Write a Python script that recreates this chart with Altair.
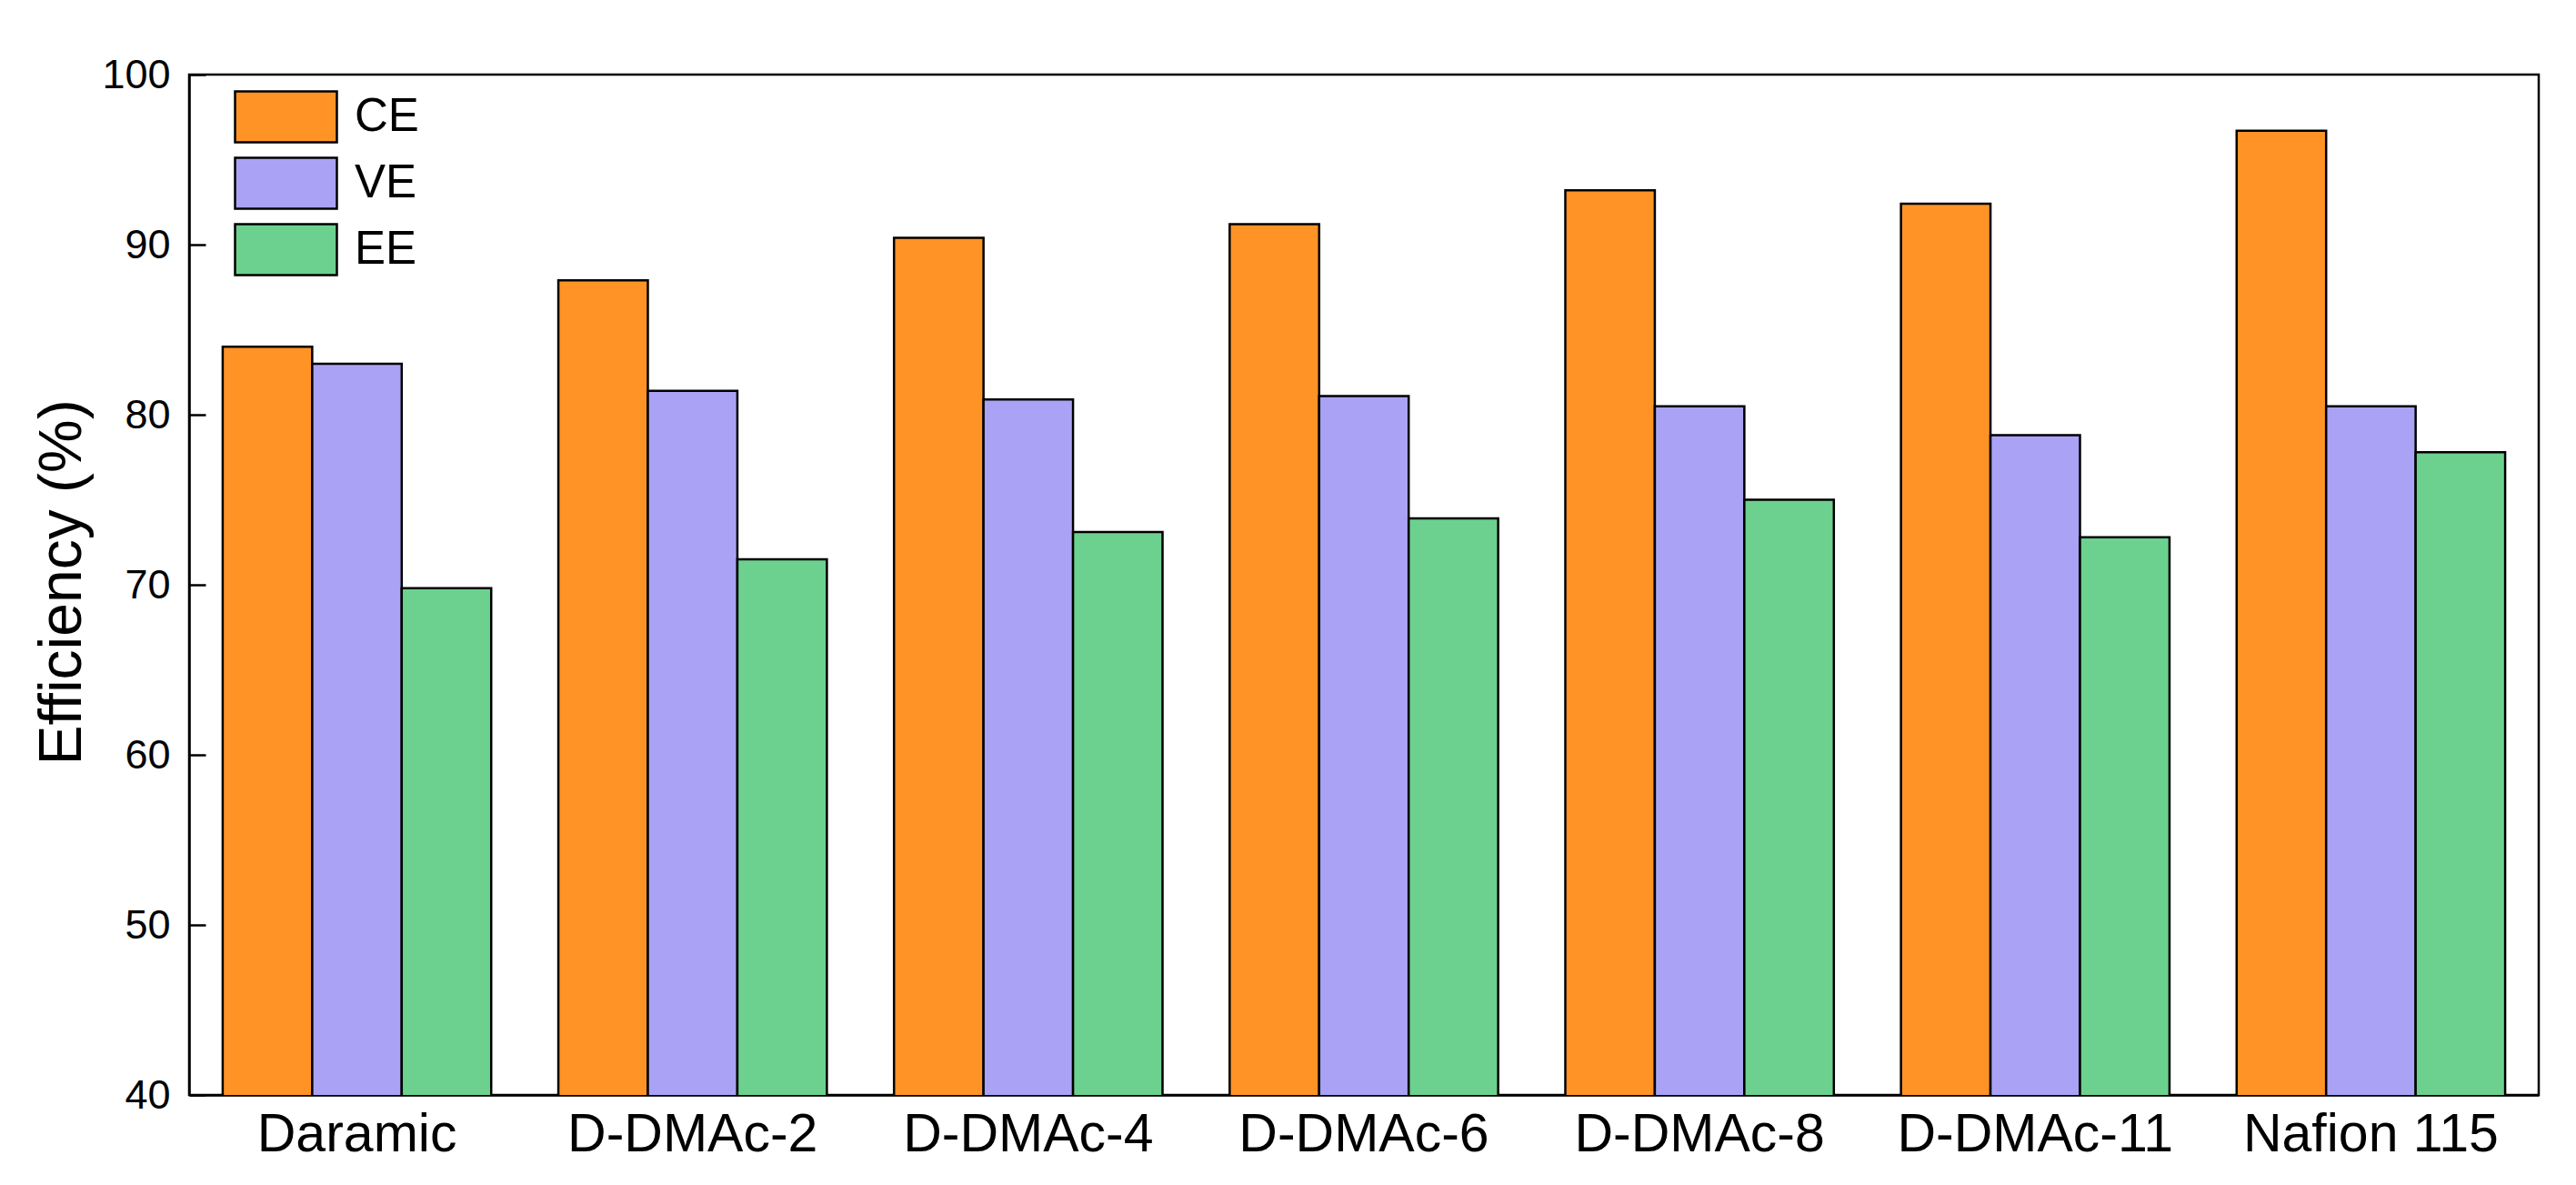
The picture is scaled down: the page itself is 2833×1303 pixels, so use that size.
import altair as alt
import pandas as pd

groups = ["Daramic", "D-DMAc-2", "D-DMAc-4", "D-DMAc-6", "D-DMAc-8", "D-DMAc-11", "Nafion 115"]
series = ["CE", "VE", "EE"]
ce = [84.0, 87.9, 90.4, 91.2, 93.2, 92.4, 96.7]
ve = [83.0, 81.4, 80.9, 81.1, 80.5, 78.8, 80.5]
ee = [69.8, 71.5, 73.1, 73.9, 75.0, 72.8, 77.8]
colors = ["#FF9326", "#AAA2F5", "#6CD18E"]
y_ticks = [40, 50, 60, 70, 80, 90, 100]

rows = []
for s, vals in zip(series, [ce, ve, ee]):
    for g, v in zip(groups, vals):
        rows.append({"Membrane": g, "Series": s, "Value": v})
df = pd.DataFrame(rows)

FONT = "Liberation Sans"
W, H = 2584, 1122
TICK = 18

yscale = alt.Scale(domain=[40, 100], nice=False, zero=False)

# The y axis is a "right" axis moved onto the left edge (offset -W), so its
# ticks point into the plot; labels are pulled back to the left of the line.
chart = alt.Chart(df).mark_bar(clip=True, stroke="black", strokeWidth=2.5).encode(
    x=alt.X("Membrane:N", sort=groups,
            scale=alt.Scale(paddingInner=0.2, paddingOuter=0.1),
            axis=alt.Axis(title=None, labelAngle=0, ticks=False, tickSize=0,
                          labelFontSize=59, labelPadding=14, labelFont=FONT,
                          labelColor="black", labelLimit=800,
                          domainColor="black", domainWidth=2.5)),
    xOffset=alt.XOffset("Series:N", sort=series,
                        scale=alt.Scale(paddingInner=0, paddingOuter=0)),
    y=alt.Y("Value:Q", scale=yscale,
            axis=alt.Axis(orient="right", offset=-W, title="Efficiency (%)",
                          values=y_ticks, ticks=True, tickSize=TICK, tickWidth=2.5,
                          tickColor="black",
                          labelFontSize=45, labelPadding=-(TICK + 21), labelAlign="right",
                          labelFont=FONT, labelColor="black",
                          domainColor="black", domainWidth=2.5,
                          grid=False, titleFont=FONT, titleFontSize=66,
                          titleFontWeight="normal", titleColor="black",
                          titleAngle=270, titleX=-120, titleY=558,
                          titleAlign="center", titleBaseline="alphabetic")),
    color=alt.Color("Series:N", sort=series,
                    scale=alt.Scale(domain=series, range=colors),
                    legend=alt.Legend(title=None, orient="none", legendX=77, legendY=17,
                                      symbolType="M-2,-1H2V1H-2Z", symbolSize=3136,
                                      symbolStrokeColor="black", symbolStrokeWidth=2.5,
                                      symbolOpacity=1,
                                      labelFontSize=51, labelFont=FONT, labelColor="black",
                                      labelOffset=46, rowPadding=6, padding=0,
                                      labelLimit=400)),
).properties(
    width=W, height=H,
    autosize=alt.AutoSizeParams(type="none"),
    padding={"left": 200, "top": 74, "right": 30, "bottom": 90},
).configure(background="white").configure_view(stroke="black", strokeWidth=2.5)

chart.save("out.html", embed_options={"renderer": "svg", "actions": False})
